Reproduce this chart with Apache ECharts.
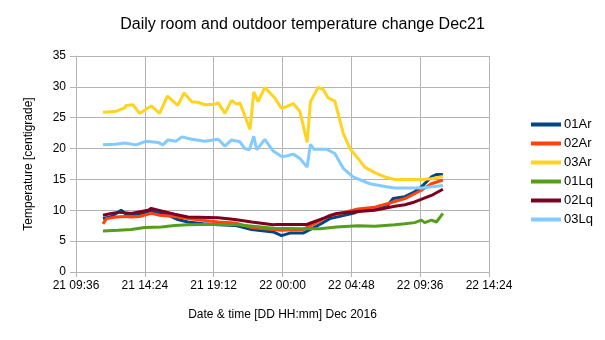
<!DOCTYPE html>
<html><head><meta charset="utf-8">
<script src="https://cdn.jsdelivr.net/npm/echarts@6/dist/echarts.min.js"></script>
<style>html,body{margin:0;padding:0;background:#fff}#c{width:605px;height:340px}</style>
</head><body><div id="c"></div>
<script>
var seriesNames = ['01Ar','02Ar','03Ar','01Lq','02Lq','03Lq'];
var seriesColors = ['#004586','#ff420e','#ffd320','#579d1c','#7e0021','#83caff'];
var xTickLabels = ['21 09:36','21 14:24','21 19:12','22 00:00','22 04:48','22 09:36','22 14:24'];
var yTicks = [0,5,10,15,20,25,30,35];

var s01Ar = [['21 11:29',8.65],['21 12:04',9.0],['21 12:45',10.0],['21 13:06',9.35],['21 13:55',9.35],['21 14:30',9.7],['21 14:51',10.0],['21 15:12',9.6],['21 15:33',9.7],['21 16:01',9.2],['21 16:42',8.5],['21 17:24',8.1],['21 18:29',7.8],['21 19:31',7.65],['21 20:41',7.55],['21 21:51',6.9],['21 23:21',6.5],['21 23:56',5.9],['22 00:31',6.3],['22 01:26',6.3],['22 02:36',7.7],['22 03:18',8.65],['22 03:46',8.9],['22 04:55',9.5],['22 05:16',9.8],['22 06:26',10.4],['22 07:22',10.9],['22 07:43',11.9],['22 08:32',12.2],['22 09:13',13.0],['22 09:41',13.8],['22 10:23',15.4],['22 10:44',15.8],['22 11:11',15.8]];
var s02Ar = [['21 11:29',7.8],['21 11:43',8.65],['21 12:24',8.9],['21 13:00',9.0],['21 13:27',8.9],['21 14:02',9.0],['21 14:51',9.5],['21 15:26',9.2],['21 16:29',9.0],['21 17:24',8.65],['21 19:31',8.1],['21 20:41',7.95],['21 21:51',7.2],['21 23:21',6.9],['21 23:56',6.75],['22 01:26',6.9],['22 02:29',8.1],['22 03:18',9.2],['22 03:46',9.35],['22 04:55',10.0],['22 05:16',10.2],['22 06:26',10.5],['22 07:22',11.1],['22 08:32',11.9],['22 09:41',13.25],['22 10:23',14.3],['22 11:11',14.9]];
var s03Ar = [['21 11:29',25.9],['21 12:19',26.0],['21 13:00',26.6],['21 13:06',27.0],['21 13:34',27.1],['21 14:02',25.7],['21 14:51',26.9],['21 15:26',25.7],['21 15:58',28.5],['21 16:42',27.0],['21 17:08',29.0],['21 17:40',27.6],['21 18:06',27.5],['21 18:35',27.1],['21 19:17',27.2],['21 19:31',27.4],['21 19:59',25.7],['21 20:27',27.8],['21 20:48',27.2],['21 21:02',27.4],['21 21:44',23.1],['21 22:00',29.2],['21 22:18',27.6],['21 22:46',29.9],['21 23:28',28.2],['21 23:56',26.5],['22 00:17',26.8],['22 00:45',27.3],['22 01:13',26.0],['22 01:43',21.0],['22 01:57',27.6],['22 02:29',29.9],['22 02:50',29.6],['22 03:11',28.2],['22 03:39',27.7],['22 04:14',22.5],['22 04:42',20.0],['22 05:16',18.4],['22 05:44',17.0],['22 06:26',16.1],['22 07:08',15.4],['22 07:50',15.0],['22 09:41',15.0],['22 10:23',15.1],['22 11:11',15.5]];
var s01Lq = [['21 11:29',6.65],['21 12:32',6.75],['21 13:27',6.9],['21 14:23',7.2],['21 15:33',7.3],['21 16:29',7.55],['21 17:24',7.65],['21 18:35',7.7],['21 20:41',7.7],['21 23:21',7.1],['22 01:26',7.0],['22 02:36',7.0],['22 03:46',7.3],['22 05:16',7.5],['22 06:26',7.4],['22 07:50',7.65],['22 08:32',7.8],['22 09:13',8.0],['22 09:41',8.4],['22 09:55',8.0],['22 10:23',8.4],['22 10:44',8.1],['22 11:11',9.5]];
var s02Lq = [['21 11:29',9.2],['21 12:04',9.5],['21 12:39',9.7],['21 13:27',9.5],['21 14:37',10.0],['21 14:51',10.3],['21 15:33',9.9],['21 16:29',9.35],['21 17:24',8.9],['21 19:31',8.8],['21 20:41',8.5],['21 21:51',8.1],['21 23:21',7.65],['21 23:36',7.7],['22 01:41',7.7],['22 02:36',8.5],['22 03:46',9.5],['22 05:16',9.8],['22 06:26',10.0],['22 07:50',10.65],['22 08:32',10.9],['22 09:13',11.35],['22 10:23',12.4],['22 11:11',13.4]];
var s03Lq = [['21 11:29',20.6],['21 12:19',20.7],['21 12:24',21.0],['21 13:00',20.9],['21 13:48',20.6],['21 14:30',21.2],['21 15:19',21.0],['21 15:40',20.6],['21 16:01',21.4],['21 16:35',21.2],['21 16:59',21.9],['21 17:40',21.5],['21 18:35',21.2],['21 19:31',21.5],['21 19:59',20.4],['21 20:27',21.4],['21 21:02',21.1],['21 21:23',20.0],['21 21:41',19.8],['21 22:00',22.0],['21 22:12',19.8],['21 22:46',21.5],['21 23:21',19.6],['21 23:56',18.7],['22 00:17',18.8],['22 00:45',19.1],['22 01:13',18.4],['22 01:43',17.0],['22 01:57',20.7],['22 02:11',19.9],['22 03:04',19.9],['22 03:39',19.2],['22 04:14',16.8],['22 04:55',15.4],['22 06:05',14.3],['22 07:15',13.8],['22 07:50',13.6],['22 09:41',13.6],['22 11:11',14.0]];

var allData = [s01Ar, s02Ar, s03Ar, s01Lq, s02Lq, s03Lq];

// hours since 21 Dec 00:00
function toHours(s){
  var p = s.split(' '); var d = parseInt(p[0],10); var hm = p[1].split(':');
  return (d-21)*24 + parseInt(hm[0],10) + parseInt(hm[1],10)/60;
}
function fmtHours(v){
  var tot = Math.round(v*60); var d = 21 + Math.floor(tot/1440); var r = tot%1440;
  var h = Math.floor(r/60), m = r%60;
  return d + ' ' + (h<10?'0':'') + h + ':' + (m<10?'0':'') + m;
}
var xMin = toHours(xTickLabels[0]), xMax = toHours(xTickLabels[xTickLabels.length-1]);
var xInterval = toHours(xTickLabels[1]) - xMin;

var FONT = 'Liberation Sans';
var chart = echarts.init(document.getElementById('c'), null, {renderer:'canvas'});
chart.setOption({
  animation:false,
  backgroundColor:'#fff',
  textStyle:{fontFamily:FONT},
  title:{text:'Daily room and outdoor temperature change Dec21', left:'center', top:12,
    textStyle:{fontFamily:FONT, fontSize:16, fontWeight:'normal', color:'#000'}},
  grid:{left:76, right:116, top:56, bottom:68},
  legend:{orient:'vertical', left:526, top:113, itemGap:6, itemWidth:30, itemHeight:4, icon:'rect',
    data:seriesNames, textStyle:{fontFamily:FONT, fontSize:13, color:'#000', padding:[0,0,0,-2]}},
  xAxis:{type:'value', min:xMin, max:xMax, interval:xInterval,
    name:'Date & time [DD HH:mm] Dec 2016', nameLocation:'middle', nameGap:37,
    nameTextStyle:{fontFamily:FONT, fontSize:12, color:'#000'},
    axisLine:{show:true, lineStyle:{color:'#b3b3b3'}},
    axisTick:{show:true, length:5, lineStyle:{color:'#b3b3b3'}},
    axisLabel:{formatter:fmtHours, fontFamily:FONT, fontSize:12, color:'#000', margin:8},
    splitLine:{show:true, lineStyle:{color:'#b3b3b3'}}},
  yAxis:{type:'value', min:yTicks[0], max:yTicks[yTicks.length-1], interval:5,
    name:'Temperature [centigrade]', nameLocation:'middle', nameGap:41, nameRotate:90,
    nameTextStyle:{fontFamily:FONT, fontSize:12, color:'#000'},
    axisLine:{show:true, lineStyle:{color:'#b3b3b3'}},
    axisTick:{show:true, length:6, lineStyle:{color:'#b3b3b3'}},
    axisLabel:{fontFamily:FONT, fontSize:12, color:'#000', margin:10},
    splitLine:{show:true, lineStyle:{color:'#b3b3b3'}}},
  series: seriesNames.map(function(n,i){
    return {name:n, type:'line', showSymbol:false, symbol:'none', color:seriesColors[i],
      lineStyle:{width:3, color:seriesColors[i]},
      data: allData[i].map(function(p){return [toHours(p[0]), p[1]];})};
  })
});
</script></body></html>
